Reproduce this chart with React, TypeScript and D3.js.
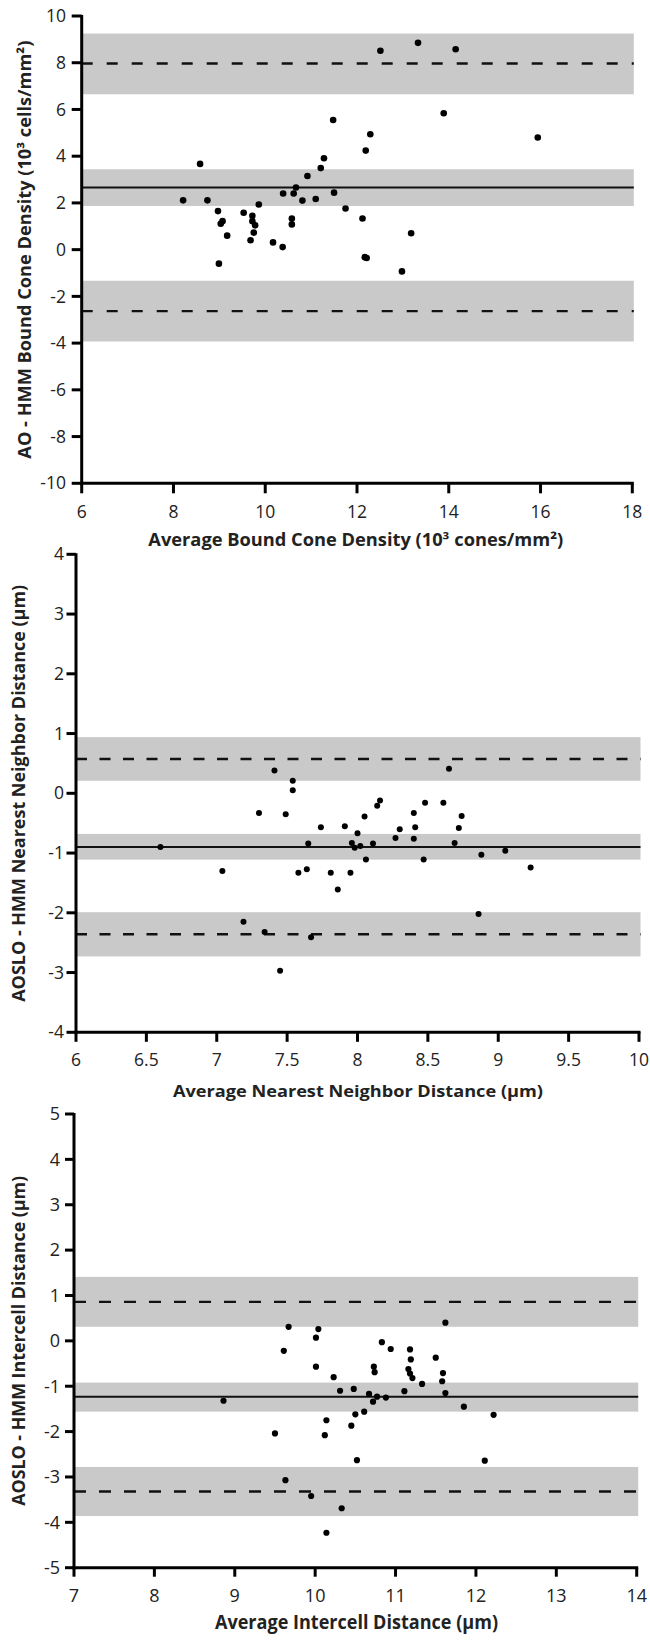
import React from "react";
import * as d3 from "d3";

// ---------- Panel 1: Bound cone density ----------
const p1X = [8.21, 8.58, 8.74, 8.97, 9.07, 9.03, 9.17, 9.53, 9.72, 9.72, 9.78, 9.75, 9.68, 9.86, 10.17, 10.38, 10.39, 10.58, 10.58, 10.62, 10.67, 10.81, 10.92, 11.1, 11.21, 11.28, 11.48, 11.5, 11.75, 12.12, 12.19, 12.29, 12.51, 13.33, 14.15, 13.89, 15.94, 13.18, 12.17, 12.21, 12.98, 8.99];
const p1Y = [2.11, 3.67, 2.11, 1.65, 1.22, 1.11, 0.6, 1.58, 1.45, 1.22, 1.04, 0.73, 0.4, 1.93, 0.31, 0.11, 2.4, 1.33, 1.08, 2.4, 2.66, 2.1, 3.15, 2.17, 3.49, 3.91, 5.55, 2.44, 1.76, 1.33, 4.24, 4.94, 8.51, 8.85, 8.58, 5.84, 4.8, 0.7, -0.32, -0.36, -0.93, -0.6];
const p1Lines = [7.97, 2.66, -2.63]; // upper LoA, mean, lower LoA
const p1BandTop = [9.25, 3.44, -1.33];
const p1BandBottom = [6.65, 1.87, -3.93];
const p1XTicks = [6, 8, 10, 12, 14, 16, 18];
const p1YTicks = [10, 8, 6, 4, 2, 0, -2, -4, -6, -8, -10];
const p1XTitle = "Average Bound Cone Density (10³ cones/mm²)";
const p1YTitle = "AO - HMM Bound Cone Density (10³ cells/mm²)";

// ---------- Panel 2: Nearest neighbor distance ----------
const p2X = [7.41, 7.54, 7.54, 8.65, 6.6, 7.04, 7.19, 7.34, 7.3, 7.49, 7.45, 7.67, 7.65, 7.64, 7.58, 7.74, 7.81, 7.86, 7.95, 7.91, 7.96, 7.98, 8.02, 8.0, 8.05, 8.06, 8.11, 8.14, 8.16, 8.27, 8.3, 8.4, 8.41, 8.4, 8.47, 8.48, 8.61, 8.69, 8.72, 8.74, 8.88, 8.86, 9.05, 9.23];
const p2Y = [0.38, 0.21, 0.05, 0.41, -0.9, -1.3, -2.15, -2.32, -0.33, -0.35, -2.97, -2.41, -0.84, -1.27, -1.33, -0.57, -1.33, -1.61, -1.33, -0.55, -0.83, -0.91, -0.88, -0.67, -0.39, -1.11, -0.84, -0.21, -0.12, -0.75, -0.6, -0.33, -0.57, -0.76, -1.11, -0.16, -0.16, -0.83, -0.58, -0.38, -1.03, -2.02, -0.96, -1.24];
const p2Lines = [0.575, -0.9, -2.36];
const p2BandTop = [0.94, -0.68, -1.99];
const p2BandBottom = [0.21, -1.11, -2.73];
const p2XTicks = [6, 6.5, 7, 7.5, 8, 8.5, 9, 9.5, 10];
const p2YTicks = [4, 3, 2, 1, 0, -1, -2, -3, -4];
const p2XTitle = "Average Nearest Neighbor Distance (µm)";
const p2YTitle = "AOSLO - HMM Nearest Neighbor Distance (µm)";

// ---------- Panel 3: Intercell distance ----------
const p3X = [9.67, 9.61, 10.04, 10.01, 10.01, 11.62, 10.83, 10.94, 11.18, 11.19, 11.5, 10.73, 10.74, 11.16, 11.18, 11.59, 10.23, 11.21, 11.58, 11.33, 10.31, 10.48, 10.67, 10.77, 10.72, 10.88, 11.11, 11.62, 11.85, 12.22, 10.61, 10.5, 10.45, 10.14, 10.12, 10.52, 12.11, 10.33, 10.14, 8.86, 9.5, 9.63, 9.95];
const p3Y = [0.31, -0.22, 0.26, 0.07, -0.57, 0.4, -0.03, -0.18, -0.19, -0.41, -0.37, -0.57, -0.69, -0.62, -0.72, -0.71, -0.8, -0.82, -0.89, -0.95, -1.1, -1.06, -1.17, -1.23, -1.34, -1.25, -1.11, -1.15, -1.45, -1.63, -1.56, -1.62, -1.87, -1.75, -2.08, -2.63, -2.64, -3.69, -4.23, -1.32, -2.04, -3.07, -3.42];
const p3Lines = [0.86, -1.23, -3.32];
const p3BandTop = [1.41, -0.92, -2.78];
const p3BandBottom = [0.31, -1.56, -3.86];
const p3XTicks = [7, 8, 9, 10, 11, 12, 13, 14];
const p3YTicks = [5, 4, 3, 2, 1, 0, -1, -2, -3, -4, -5];
const p3XTitle = "Average Intercell Distance (µm)";
const p3YTitle = "AOSLO - HMM Intercell Distance (µm)";

type PanelProps = {
  xs: number[]; ys: number[]; lines: number[]; bandTop: number[]; bandBottom: number[];
  xTicks: number[]; yTicks: number[]; xTitle: string; yTitle: string;
  layout: {
    left: number; right: number; top: number; bottom: number;
    r: number; tick: number; yLabelRight: number; xLabelBase: number;
    xTitleBase: number; xTitleCenter: number; xTitleLen: number; xTitleSize: number;
    yTitleBase: number; yTitleLen: number; yTitleSize: number; dash: string; tickSize: number;
  };
};

const FONT = "'Open Sans', 'DejaVu Sans', sans-serif";

function Panel({ xs, ys, lines, bandTop, bandBottom, xTicks, yTicks, xTitle, yTitle, layout: L }: PanelProps) {
  const xDom = d3.extent(xTicks) as [number, number];
  const yDom = d3.extent(yTicks) as [number, number];
  const x = d3.scaleLinear().domain(xDom).range([L.left, L.right]);
  const y = d3.scaleLinear().domain(yDom).range([L.bottom, L.top]);
  const fmt = (v: number) => (v < 0 ? "-" + Math.abs(v) : String(v));
  const yMid = (L.top + L.bottom) / 2;
  return (
    <g>
      {bandTop.map((t, i) => (
        <rect key={"b" + i} x={x(xDom[0])} y={y(t)} width={x(xDom[1]) - x(xDom[0]) + 1.5}
          height={y(bandBottom[i]) - y(t)} fill="#c9c9c9" />
      ))}
      {lines.map((v, i) => (
        <line key={"l" + i} x1={x(xDom[0])} x2={x(xDom[1]) + 1.5} y1={y(v)} y2={y(v)}
          stroke="#111" strokeWidth={i === 1 ? 2 : 2.4} strokeDasharray={i === 1 ? undefined : L.dash} />
      ))}
      {xs.map((v, i) => (
        <circle key={"c" + i} cx={x(v)} cy={y(ys[i])} r={L.r} fill="#000" />
      ))}
      {/* axes */}
      <line x1={x(xDom[0])} x2={x(xDom[0])} y1={L.top - 1} y2={L.bottom + 1.5} stroke="#000" strokeWidth={3} />
      <line x1={x(xDom[0]) - 1.5} x2={x(xDom[1]) + 1.5} y1={L.bottom} y2={L.bottom} stroke="#000" strokeWidth={3} />
      {yTicks.map((v) => (
        <g key={"yt" + v}>
          <line x1={x(xDom[0]) - L.tick} x2={x(xDom[0])} y1={y(v)} y2={y(v)} stroke="#000" strokeWidth={3} />
          <text x={L.yLabelRight} y={y(v)} dy="0.35em" textAnchor="end" fontFamily={FONT} fontSize={L.tickSize} fill="#222">{fmt(v)}</text>
        </g>
      ))}
      {xTicks.map((v) => (
        <g key={"xt" + v}>
          <line x1={x(v)} x2={x(v)} y1={L.bottom} y2={L.bottom + L.tick} stroke="#000" strokeWidth={3} />
          <text x={x(v)} y={L.xLabelBase} textAnchor="middle" fontFamily={FONT} fontSize={L.tickSize} fill="#222">{fmt(v)}</text>
        </g>
      ))}
      <text x={L.xTitleCenter} y={L.xTitleBase} textAnchor="middle" fontFamily={FONT} fontWeight="bold"
        fontSize={L.xTitleSize} fill="#222" textLength={L.xTitleLen} lengthAdjust="spacingAndGlyphs">{xTitle}</text>
      <text transform={`translate(${L.yTitleBase},${yMid}) rotate(-90)`} textAnchor="middle" fontFamily={FONT}
        fontWeight="bold" fontSize={L.yTitleSize} fill="#222" textLength={L.yTitleLen} lengthAdjust="spacingAndGlyphs">{yTitle}</text>
    </g>
  );
}

export default function App() {
  return (
    <svg width={650} height={1642} style={{ position: "absolute", left: 0, top: 0, background: "#fff" }}>
      <rect width={650} height={1642} fill="#fff" />
      <Panel xs={p1X} ys={p1Y} lines={p1Lines} bandTop={p1BandTop} bandBottom={p1BandBottom}
        xTicks={p1XTicks} yTicks={p1YTicks} xTitle={p1XTitle} yTitle={p1YTitle}
        layout={{ left: 81.7, right: 632.3, top: 16, bottom: 483.3, r: 3.3, tick: 10, yLabelRight: 66,
          xLabelBase: 518.3, xTitleBase: 545.7, xTitleCenter: 355.8, xTitleLen: 415, xTitleSize: 17,
          yTitleBase: 31, yTitleLen: 418, yTitleSize: 17.5, dash: "11 14", tickSize: 17.5 }} />
      <Panel xs={p2X} ys={p2Y} lines={p2Lines} bandTop={p2BandTop} bandBottom={p2BandBottom}
        xTicks={p2XTicks} yTicks={p2YTicks} xTitle={p2XTitle} yTitle={p2YTitle}
        layout={{ left: 76, right: 639, top: 554.3, bottom: 1032.3, r: 3, tick: 9.5, yLabelRight: 64,
          xLabelBase: 1066, xTitleBase: 1097.3, xTitleCenter: 358, xTitleLen: 370, xTitleSize: 16,
          yTitleBase: 25, yTitleLen: 417, yTitleSize: 17.5, dash: "11 12.5", tickSize: 17.5 }} />
      <Panel xs={p3X} ys={p3Y} lines={p3Lines} bandTop={p3BandTop} bandBottom={p3BandBottom}
        xTicks={p3XTicks} yTicks={p3YTicks} xTitle={p3XTitle} yTitle={p3YTitle}
        layout={{ left: 74, right: 636.7, top: 1114, bottom: 1567.7, r: 3.1, tick: 9, yLabelRight: 60,
          xLabelBase: 1601.7, xTitleBase: 1629.3, xTitleCenter: 356.5, xTitleLen: 283, xTitleSize: 19,
          yTitleBase: 25, yTitleLen: 330, yTitleSize: 17.5, dash: "12 13", tickSize: 18 }} />
    </svg>
  );
}
